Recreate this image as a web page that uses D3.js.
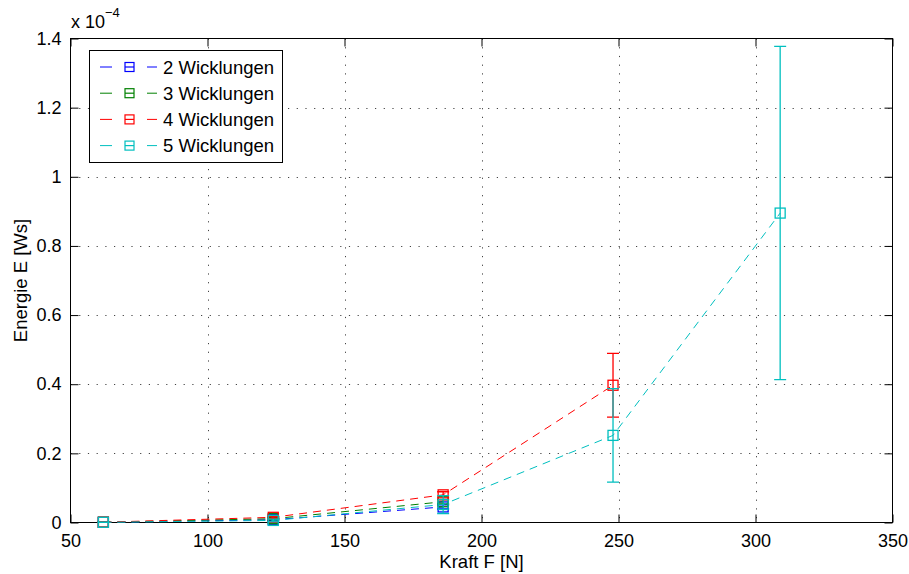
<!DOCTYPE html>
<html>
<head>
<meta charset="utf-8">
<script src="https://cdn.jsdelivr.net/npm/d3@7/dist/d3.min.js"></script>
<style>
  html, body { margin: 0; padding: 0; background: #fff; }
  svg text { font-family: "Liberation Sans", Arial, Helvetica, sans-serif; fill: #000; }
</style>
</head>
<body>
<svg id="chart" width="909" height="574"></svg>
<script>
// Force F [N] and energy E [1e-4 Ws] per number of windings
const seriesNames = ["2 Wicklungen", "3 Wicklungen", "4 Wicklungen", "5 Wicklungen"];
const seriesColors = ["#0000ff", "#008000", "#ff0000", "#00bfbf"];

const force2 = [62, 124, 186];
const energy2 = [0.0005, 0.008, 0.045];
const error2 = [0.0003, 0.003, 0.006];

const force3 = [62, 124, 186];
const energy3 = [0.0007, 0.011, 0.060];
const error3 = [0.0003, 0.003, 0.006];

const force4 = [62, 124, 186, 248];
const energy4 = [0.0008, 0.015, 0.080, 0.397];
const error4 = [0.0003, 0.003, 0.009, 0.092];

const force5 = [62, 124, 186, 248, 309];
const energy5 = [0.0005, 0.006, 0.052, 0.252, 0.895];
const error5 = [0.0003, 0.004, 0.026, 0.135, 0.482];

const xTicks = [50, 100, 150, 200, 250, 300, 350];
const yTicks = [0, 0.2, 0.4, 0.6, 0.8, 1, 1.2, 1.4];

const series = [
  { name: seriesNames[0], color: seriesColors[0], x: force2, y: energy2, e: error2 },
  { name: seriesNames[1], color: seriesColors[1], x: force3, y: energy3, e: error3 },
  { name: seriesNames[2], color: seriesColors[2], x: force4, y: energy4, e: error4 },
  { name: seriesNames[3], color: seriesColors[3], x: force5, y: energy5, e: error5 }
];

const plotL = 70.5, plotR = 892.5, plotT = 38.5, plotB = 522.5;
const svg = d3.select("#chart");

const x = d3.scaleLinear().domain([50, 350]).range([plotL, plotR]);
const y = d3.scaleLinear().domain([0, 1.4]).range([plotB, plotT]);

// dotted grid
const grid = svg.append("g");
grid.selectAll(".gx").data(xTicks.slice(1, -1)).join("line")
  .attr("x1", d => Math.round(x(d)) + 0.5).attr("x2", d => Math.round(x(d)) + 0.5)
  .attr("y1", plotT).attr("y2", plotB)
  .attr("stroke", "#444").attr("stroke-width", 1).attr("stroke-dasharray", "1.2,7.5");
grid.selectAll(".gy").data(yTicks.slice(1, -1)).join("line")
  .attr("y1", d => Math.round(y(d)) + 0.5).attr("y2", d => Math.round(y(d)) + 0.5)
  .attr("x1", plotL).attr("x2", plotR)
  .attr("stroke", "#444").attr("stroke-width", 1).attr("stroke-dasharray", "1.2,7.5");

// axes with inward ticks on all four sides
const tickLen = 8;
const axB = svg.append("g").attr("transform", `translate(0,${plotB})`)
  .call(d3.axisBottom(x).tickValues(xTicks).tickSize(-tickLen).tickPadding(tickLen + 4).tickFormat(d3.format("d")));
const axT = svg.append("g").attr("transform", `translate(0,${plotT})`)
  .call(d3.axisTop(x).tickValues(xTicks).tickSize(-tickLen).tickFormat(""));
const axL = svg.append("g").attr("transform", `translate(${plotL},0)`)
  .call(d3.axisLeft(y).tickValues(yTicks).tickSize(-tickLen).tickPadding(tickLen + 1).tickFormat(d => d3.format("~g")(d)));
const axR = svg.append("g").attr("transform", `translate(${plotR},0)`)
  .call(d3.axisRight(y).tickValues(yTicks).tickSize(-tickLen).tickFormat(""));
[axB, axT, axL, axR].forEach(a => {
  a.select(".domain").remove();
  a.selectAll("line").attr("stroke", "#000");
  a.selectAll("text").style("font-size", "18px").attr("fill", "#000");
});

// axes box
svg.append("rect").attr("x", plotL).attr("y", plotT)
  .attr("width", plotR - plotL).attr("height", plotB - plotT)
  .attr("fill", "none").attr("stroke", "#000").attr("stroke-width", 1);

// series: dashed lines, error bars and square markers
const line = d3.line().x(d => x(d[0])).y(d => y(d[1]));
const cap = 6, sq = 10;
series.forEach(s => {
  const pts = s.x.map((v, i) => [v, s.y[i], s.e[i]]);
  const g = svg.append("g");
  g.append("path").datum(pts).attr("d", line)
    .attr("fill", "none").attr("stroke", s.color).attr("stroke-width", 1)
    .attr("stroke-dasharray", "8,6");
  g.selectAll(".eb").data(pts).join("path")
    .attr("d", d => {
      const cx = x(d[0]), y1 = y(d[1] - d[2]), y2 = y(d[1] + d[2]);
      return `M${cx},${y1}V${y2}M${cx - cap},${y1}H${cx + cap}M${cx - cap},${y2}H${cx + cap}`;
    })
    .attr("fill", "none").attr("stroke", s.color).attr("stroke-width", 1.3);
  g.selectAll(".mk").data(pts).join("rect")
    .attr("x", d => x(d[0]) - sq / 2).attr("y", d => y(d[1]) - sq / 2)
    .attr("width", sq).attr("height", sq)
    .attr("fill", "none").attr("stroke", s.color).attr("stroke-width", 1.3);
});

// legend
const lg = svg.append("g");
lg.append("rect").attr("x", 89.5).attr("y", 50.5).attr("width", 193).attr("height", 112)
  .attr("fill", "#fff").attr("stroke", "#000").attr("stroke-width", 1);
series.forEach((s, i) => {
  const cy = 67 + i * 26.2;
  lg.append("line").attr("x1", 100).attr("x2", 112).attr("y1", cy).attr("y2", cy)
    .attr("stroke", s.color).attr("stroke-width", 1);
  lg.append("line").attr("x1", 147).attr("x2", 157).attr("y1", cy).attr("y2", cy)
    .attr("stroke", s.color).attr("stroke-width", 1);
  lg.append("rect").attr("x", 125).attr("y", cy - 4.5).attr("width", 9).attr("height", 9)
    .attr("fill", "none").attr("stroke", s.color).attr("stroke-width", 1.2);
  lg.append("line").attr("x1", 125).attr("x2", 134).attr("y1", cy).attr("y2", cy)
    .attr("stroke", s.color).attr("stroke-width", 1.2);
  lg.append("text").attr("x", 163).attr("y", cy + 6.5).style("font-size", "18.5px").text(s.name);
});

// exponent label
const ex = svg.append("text").attr("x", 71).attr("y", 28).style("font-size", "18px");
ex.append("tspan").text("x 10");
ex.append("tspan").attr("dy", -11).style("font-size", "13px").text("\u22124");

// axis titles
svg.append("text").attr("x", (plotL + plotR) / 2).attr("y", 568).attr("text-anchor", "middle")
  .style("font-size", "18.5px").text("Kraft F [N]");
svg.append("text").attr("transform", `translate(27,${(plotT + plotB) / 2}) rotate(-90)`)
  .attr("text-anchor", "middle").style("font-size", "18.5px").text("Energie E [Ws]");
</script>
</body>
</html>
